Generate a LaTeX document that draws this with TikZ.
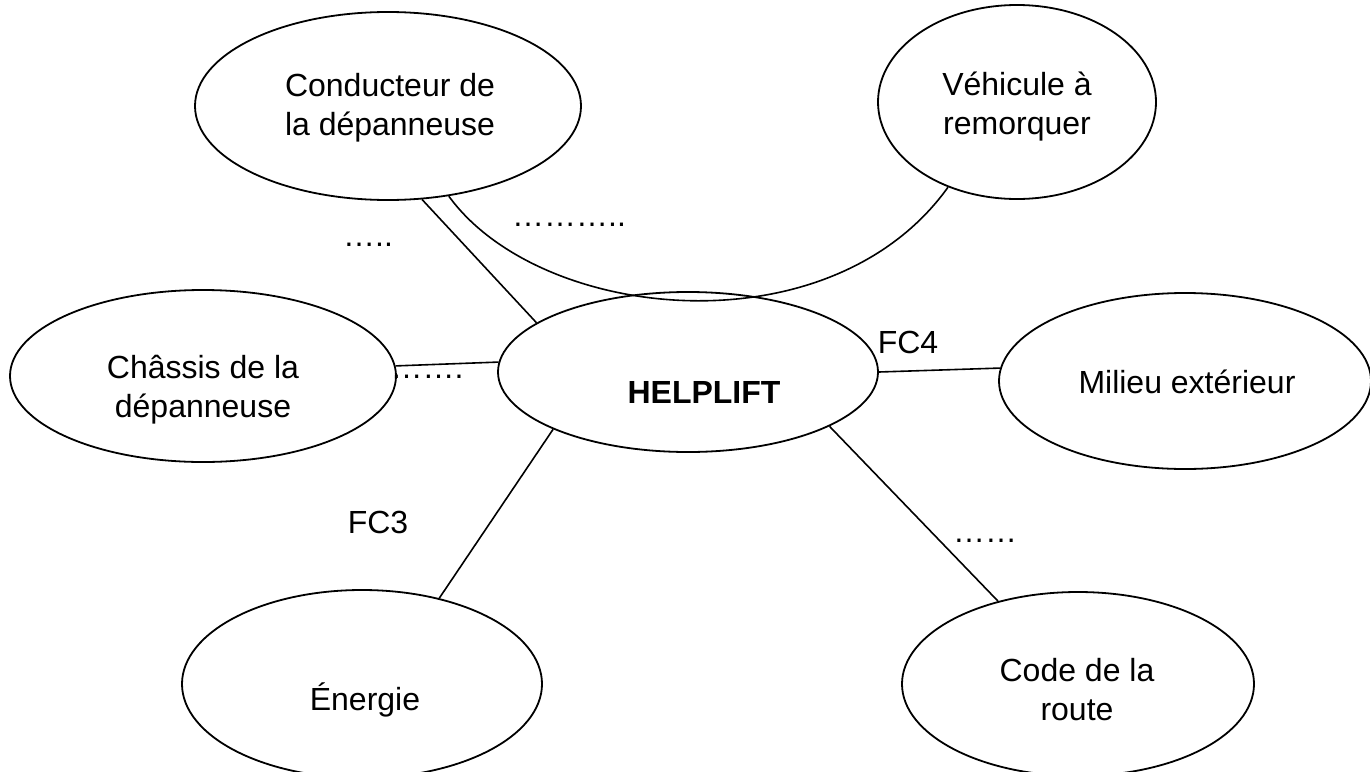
\documentclass[tikz,border=0pt]{standalone}
\usepackage{fontspec}
\setmainfont{Liberation Sans}
\usetikzlibrary{shapes.geometric}
\begin{document}
\begin{tikzpicture}[x=0.5pt,y=-0.5pt,
  ell/.style={draw, ellipse, line width=0.9pt, inner sep=0pt},
  txt/.style={font=\fontsize{16}{19.5}\selectfont, inner sep=0pt, align=center},
  conn/.style={line width=0.8pt}]
\useasboundingbox (0,0) rectangle (1370,771);
% ellipses
\node[ell, minimum width=193pt, minimum height=94pt] (cond) at (388,106) {};
\node[ell, minimum width=139pt, minimum height=97pt] (veh) at (1017,102) {};
\node[ell, minimum width=193pt, minimum height=86pt] (chas) at (203,376) {};
\node[ell, minimum width=190pt, minimum height=80pt] (help) at (688,372) {};
\node[ell, minimum width=186pt, minimum height=88pt] (mil) at (1185,381) {};
\node[ell, minimum width=180pt, minimum height=94pt] (ener) at (362,684) {};
\node[ell, minimum width=176pt, minimum height=92pt] (code) at (1078,684) {};
% texts
\node[txt] (condt) at (390,108) {Conducteur de\\la dépanneuse};
\node[txt] (veht) at (1017,107) {Véhicule à\\remorquer};
\node[txt] (chast) at (203,390) {Châssis de la\\dépanneuse};
\node[txt, font=\fontsize{16}{19.5}\selectfont\bfseries] (helpt) at (704,392) {HELPLIFT};
\node[txt] (milt) at (1187,382) {Milieu extérieur};
\node[txt] (enert) at (365,700) {Énergie};
\node[txt] (codet) at (1077,690) {Code de la\\route};
% connectors
\draw[conn] (cond.-70) -- (help.162);
\draw[conn] (cond.-56) .. controls (540,322) and (830,352) .. (veh.-129);
\draw[conn] (chas.3) -- (help.177.6);
\draw[conn] (help.0) -- (mil.176);
\draw[conn] (help.-157) -- (ener.48);
\draw[conn] (help.-21) -- (code.134);
% labels
\node[txt, anchor=base] (l1) at (368,246) {…..};
\node[txt, anchor=base] (l2) at (569,226) {………..};
\node[txt, anchor=base] (l3) at (427,378) {…….};
\node[txt, anchor=base] (l4) at (985,542) {……};
\node[txt, anchor=base] (fc4) at (908,353) {FC4};
\node[txt, anchor=base] (fc3) at (378,533) {FC3};
\end{tikzpicture}
\end{document}
